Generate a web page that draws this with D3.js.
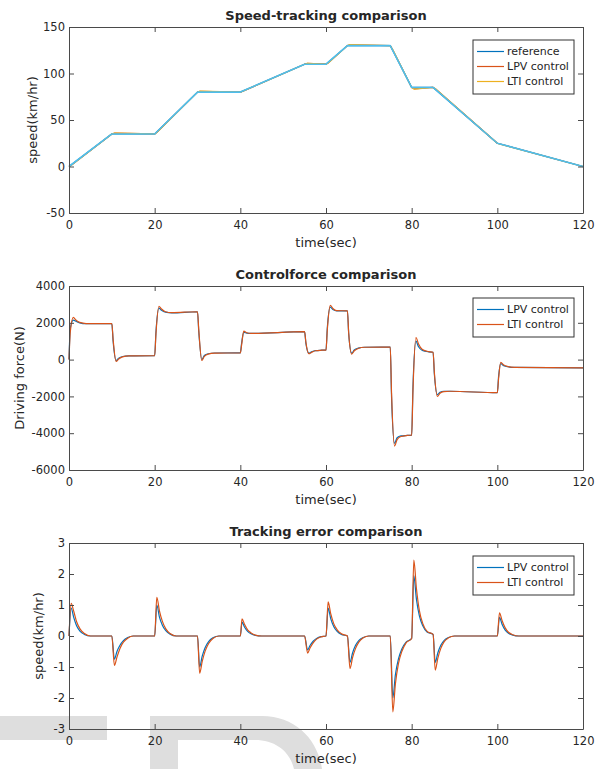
<!DOCTYPE html>
<html>
<head>
<meta charset="utf-8">
<script src="https://d3js.org/d3.v7.min.js"></script>
<style>
  body { margin: 0; background: #fff; }
  text { font-family: "DejaVu Sans", sans-serif; fill: #262626; }
</style>
</head>
<body>
<script>

// speed tracking (km/hr)
var speedT   = [0, 10, 20, 30, 40, 55, 60, 65, 75, 80, 85, 100, 120];
var speedRef = [0, 35, 35, 80, 80, 110, 110, 130, 130, 85, 85, 25, 0];
var trackT   = [0, 0.6, 10, 10.6, 20, 20.6, 30, 30.6, 40, 40.6, 55, 55.6, 60, 60.6, 65, 65.6, 75, 75.6, 80, 80.6, 85, 85.6, 100, 100.6, 120];
var speedLPV = [0, 1.6, 35, 35.8, 35, 37.1, 80, 80.9, 80, 80.9, 110, 110.8, 110, 111.7, 130, 130.9, 130, 125.2, 85, 83.5, 85, 83.3, 25, 24.2, 0];
var speedLTI = [0, 1.5, 35, 36, 35, 37, 80, 81, 80, 81, 110, 111, 110, 111.6, 130, 131, 130, 125.4, 85, 83.2, 85, 83.5, 25, 24.1, 0];

// control force (N)
var forceT = [0, 0.3, 1, 1.6, 2.5, 4, 10,
  10.3, 11, 11.6, 12.5, 14, 20,
  20.3, 21, 21.6, 22.5, 24, 30,
  30.3, 31, 31.6, 32.5, 34, 40,
  40.3, 40.8, 41.5, 42.5, 55,
  55.3, 56, 56.6, 57.5, 59, 60,
  60.3, 61, 61.6, 62.5, 65,
  65.3, 66, 66.6, 67.5, 69, 75,
  75.3, 76, 76.6, 77.5, 79, 80,
  80.3, 81, 81.6, 82.5, 84, 85,
  85.3, 86, 86.6, 87.5, 89, 100,
  100.3, 100.8, 101.5, 102.5, 104, 120];
var forceLPV = [0, 1700, 2150, 2080, 2000, 1950, 1960,
  1000, -50, 80, 170, 200, 210,
  1500, 2800, 2680, 2580, 2540, 2600,
  1500, 0, 220, 320, 360, 370,
  900, 1480, 1440, 1420, 1520,
  900, 350, 420, 490, 510, 520,
  1700, 2850, 2720, 2650, 2650,
  1400, 350, 520, 620, 670, 680,
  -2000, -4550, -4250, -4150, -4120, -4100,
  -1500, 1000, 700, 500, 420, 400,
  -800, -1900, -1780, -1720, -1720, -1800,
  -900, -220, -330, -390, -420, -450];
var forceLTI = [0, 1500, 2300, 2150, 2020, 1960, 1960,
  1100, -100, 30, 150, 200, 210,
  1400, 2900, 2750, 2600, 2550, 2600,
  1600, -50, 170, 300, 350, 370,
  800, 1550, 1460, 1420, 1520,
  950, 320, 390, 480, 510, 520,
  1600, 2950, 2780, 2660, 2650,
  1450, 300, 480, 600, 670, 680,
  -1800, -4700, -4350, -4180, -4120, -4100,
  -1700, 1200, 850, 550, 430, 400,
  -700, -2000, -1830, -1740, -1720, -1800,
  -1000, -150, -300, -380, -420, -450];

// tracking error (km/hr)
var errT = [0, 0.5, 1.1, 1.8, 2.6, 3.6, 5,
  10, 10.6, 11.2, 11.9, 12.7, 13.7, 15,
  20, 20.5, 21.1, 21.8, 22.6, 23.6, 25,
  30, 30.5, 31.1, 31.8, 32.6, 33.6, 35,
  40, 40.4, 41, 41.7, 42.5, 43.5, 45,
  55, 55.7, 56.3, 57, 57.8, 58.8, 60,
  60.5, 61.1, 61.8, 62.6, 63.6, 65,
  65.6, 66.2, 66.9, 67.7, 68.7, 70,
  75, 75.6, 76.2, 76.9, 77.7, 78.7, 80,
  80.5, 81.1, 81.8, 82.6, 83.6, 85,
  85.5, 86.1, 86.8, 87.6, 88.6, 90,
  100, 100.5, 101.1, 101.8, 102.6, 103.6, 105, 120];
var errLPV = [0, 0.9, 0.6, 0.32, 0.15, 0.05, 0,
  0, -0.75, -0.5, -0.3, -0.15, -0.05, 0,
  0, 1.0, 0.62, 0.35, 0.17, 0.06, 0,
  0, -1.0, -0.65, -0.37, -0.18, -0.06, 0,
  0, 0.45, 0.28, 0.15, 0.07, 0.02, 0,
  0, -0.45, -0.3, -0.17, -0.08, -0.02, 0,
  0.9, 0.56, 0.31, 0.15, 0.05, 0,
  -0.85, -0.55, -0.3, -0.14, -0.05, 0,
  0, -2.0, -1.25, -0.75, -0.42, -0.2, -0.08,
  1.95, 1.2, 0.65, 0.33, 0.13, 0.05,
  -0.85, -0.55, -0.3, -0.14, -0.05, 0,
  0, 0.6, 0.38, 0.2, 0.09, 0.03, 0, 0];
var errLTI = [0, 1.05, 0.8, 0.45, 0.22, 0.08, 0,
  0, -0.95, -0.68, -0.4, -0.2, -0.07, 0,
  0, 1.25, 0.82, 0.47, 0.23, 0.08, 0,
  0, -1.2, -0.82, -0.48, -0.24, -0.08, 0,
  0, 0.55, 0.37, 0.2, 0.1, 0.03, 0,
  0, -0.55, -0.38, -0.22, -0.1, -0.03, 0,
  1.1, 0.72, 0.4, 0.2, 0.07, 0,
  -1.05, -0.7, -0.4, -0.19, -0.06, 0,
  0, -2.45, -1.55, -0.9, -0.5, -0.22, -0.08,
  2.45, 1.55, 0.82, 0.4, 0.15, 0.05,
  -1.1, -0.72, -0.4, -0.18, -0.06, 0,
  0, 0.75, 0.5, 0.27, 0.12, 0.04, 0, 0];

// tick labels
var xTicks = [0, 20, 40, 60, 80, 100, 120];
var speedTicks = [-50, 0, 50, 100, 150];
var forceTicks = [-6000, -4000, -2000, 0, 2000, 4000];
var errTicks = [-3, -2, -1, 0, 1, 2, 3];

var colors = { ref: "#0072BD", lpv: "#D95319", lti: "#EDB120", top: "#4DBEEE" };

var svg = d3.select("body").append("svg")
  .attr("width", 606)
  .attr("height", 769);

// grey watermark behind the bottom plot
svg.append("rect").attr("x", 0).attr("y", 716).attr("width", 107).attr("height", 24).attr("fill", "#dedede");
svg.append("path")
  .attr("d", "M150,769 V716 H262 C296,716 318,740 322,769 H294 C290,752 276,740 255,740 H178 V769 Z")
  .attr("fill", "#dedede");

var left = 69, right = 583;
var plain = function(d) { return String(d); };

function zip(t, v) {
  return t.map(function(d, i) { return [d, v[i]]; });
}

function makePlot(cfg) {
  var x = d3.scaleLinear().domain([0, 120]).range([left, right]);
  var y = d3.scaleLinear().domain(cfg.domain).range([cfg.bottom, cfg.top]);

  var g = svg.append("g");

  // data lines
  var line = d3.line()
    .x(function(d) { return x(d[0]); })
    .y(function(d) { return y(d[1]); })
    .curve(cfg.curve || d3.curveLinear);

  cfg.series.forEach(function(s) {
    g.append("path")
      .datum(zip(s.t, s.v))
      .attr("fill", "none")
      .attr("stroke", s.color)
      .attr("stroke-width", s.width || 1.2)
      .attr("stroke-linejoin", "round")
      .attr("d", line);
  });

  // axes, ticks pointing inwards
  g.append("g")
    .attr("transform", "translate(0," + cfg.bottom + ")")
    .call(d3.axisBottom(x).tickValues(xTicks).tickSize(-5).tickPadding(8).tickSizeOuter(0).tickFormat(plain));
  g.append("g")
    .attr("transform", "translate(0," + cfg.top + ")")
    .call(d3.axisTop(x).tickValues(xTicks).tickSize(-5).tickFormat("").tickSizeOuter(0));
  g.append("g")
    .attr("transform", "translate(" + left + ",0)")
    .call(d3.axisLeft(y).tickValues(cfg.ticks).tickSize(-5).tickPadding(4).tickSizeOuter(0).tickFormat(plain));
  g.append("g")
    .attr("transform", "translate(" + right + ",0)")
    .call(d3.axisRight(y).tickValues(cfg.ticks).tickSize(-5).tickFormat("").tickSizeOuter(0));

  g.selectAll(".domain, .tick line").attr("stroke", "#4a4a4a");
  g.selectAll(".tick text")
    .style("font-family", "DejaVu Sans")
    .style("font-size", "11.5px")
    .attr("fill", "#333");

  // title and labels
  g.append("text")
    .attr("x", 326).attr("y", cfg.top - 7)
    .attr("text-anchor", "middle")
    .style("font-size", "13px").style("font-weight", "bold")
    .text(cfg.title);
  g.append("text")
    .attr("x", 326).attr("y", cfg.bottom + 34)
    .attr("text-anchor", "middle")
    .style("font-size", "13px")
    .text("time(sec)");
  g.append("text")
    .attr("transform", "translate(" + cfg.ylabelX + "," + ((cfg.top + cfg.bottom) / 2) + ") rotate(-90)")
    .attr("text-anchor", "middle")
    .attr("dy", "0.35em")
    .style("font-size", "13px")
    .text(cfg.ylabel);

  // legend
  var lg = g.append("g").attr("transform", "translate(473," + cfg.legendY + ")");
  var n = cfg.legend.length;
  lg.append("rect")
    .attr("width", 101).attr("height", 9 + n * 15)
    .attr("fill", "#fff").attr("stroke", "#333").attr("stroke-width", 1);
  cfg.legend.forEach(function(s, i) {
    var yy = 11.5 + i * 15;
    lg.append("line")
      .attr("x1", 4).attr("x2", 31).attr("y1", yy).attr("y2", yy)
      .attr("stroke", s.color).attr("stroke-width", 1.2);
    lg.append("text")
      .attr("x", 34).attr("y", yy).attr("dy", "0.35em")
      .style("font-size", "11px")
      .text(s.name);
  });
}

makePlot({
  top: 27, bottom: 213, domain: [-50, 150], ticks: speedTicks,
  title: "Speed-tracking comparison", ylabel: "speed(km/hr)", ylabelX: 32,
  series: [
    { t: speedT, v: speedRef, color: colors.ref },
    { t: trackT, v: speedLPV, color: colors.lpv },
    { t: trackT, v: speedLTI, color: colors.lti },
    { t: speedT, v: speedRef, color: colors.top, width: 1.6 }
  ],
  legendY: 40,
  legend: [
    { name: "reference", color: colors.ref },
    { name: "LPV control", color: colors.lpv },
    { name: "LTI control", color: colors.lti }
  ]
});

makePlot({
  top: 286, bottom: 470, domain: [-6000, 4000], ticks: forceTicks,
  title: "Controlforce comparison", ylabel: "Driving force(N)", ylabelX: 19,
  curve: d3.curveMonotoneX,
  series: [
    { t: forceT, v: forceLPV, color: colors.ref },
    { t: forceT, v: forceLTI, color: colors.lpv }
  ],
  legendY: 298,
  legend: [
    { name: "LPV control", color: colors.ref },
    { name: "LTI control", color: colors.lpv }
  ]
});

makePlot({
  top: 543, bottom: 729, domain: [-3, 3], ticks: errTicks,
  title: "Tracking error comparison", ylabel: "speed(km/hr)", ylabelX: 38,
  curve: d3.curveMonotoneX,
  series: [
    { t: errT, v: errLPV, color: colors.ref },
    { t: errT, v: errLTI, color: colors.lpv }
  ],
  legendY: 556,
  legend: [
    { name: "LPV control", color: colors.ref },
    { name: "LTI control", color: colors.lpv }
  ]
});

</script>
</body>
</html>
